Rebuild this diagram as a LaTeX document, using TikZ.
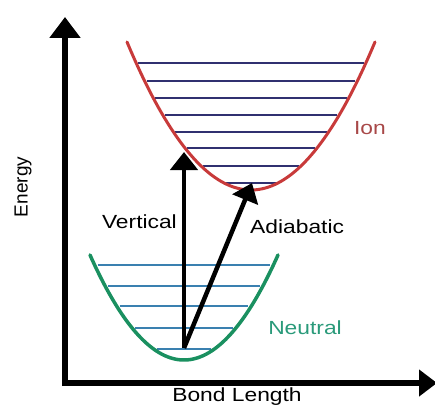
\documentclass[tikz,border=0pt]{standalone}
\usepackage{fontspec}
\setmainfont{Liberation Sans}[FakeStretch=1.2]
\newfontfamily\plainsans{Liberation Sans}
\usetikzlibrary{arrows.meta}
\definecolor{ionred}{HTML}{C83A3A}
\definecolor{iontext}{HTML}{A84848}
\definecolor{levnavy}{HTML}{303070}
\definecolor{neugreen}{HTML}{1A9060}
\definecolor{neutext}{HTML}{2A9A7A}
\definecolor{levblue}{HTML}{3A80B0}
\tikzset{
  axisline/.style={line width=5.5pt, -{Triangle[length=21pt,width=30pt]}},
  transarrow/.style={line width=4.5pt, -{Triangle[length=18pt,width=27pt]}},
  ioncurve/.style={ionred, line width=3pt, line cap=round},
  neucurve/.style={neugreen, line width=3.5pt, line cap=round},
  ionlevel/.style={levnavy, line width=1.3pt},
  neulevel/.style={levblue, line width=1.3pt},
  lbl/.style={font=\fontsize{19}{22}\selectfont, inner sep=0pt},
}
\begin{document}
\begin{tikzpicture}[x=1pt, y=-1pt]
\useasboundingbox (0,0) rectangle (435,406);
% levels
\foreach \yy in {63,81,98,115,132,148,166,183}{
  \pgfmathsetmacro\dx{sqrt((190-\yy)/0.00963)-2}
  \draw[ionlevel] ({251-\dx},\yy) -- ({251+\dx},\yy);
}
\foreach \yy in {265,286,306,328,349}{
  \pgfmathsetmacro\dx{sqrt((360-\yy)/0.01188)-3}
  \draw[neulevel] ({184-\dx},\yy) -- ({184+\dx},\yy);
}
% curves
\draw[ioncurve] plot[domain=127:375, samples=80] (\x, {190-0.00963*(\x-251)^2});
\draw[neucurve] plot[domain=90:278, samples=80] (\x, {360-0.01188*(\x-184)^2});
% axes
\coordinate (origin) at (65,386);
\coordinate (ytip) at (65,17);
\coordinate (xstart) at (62,383);
\coordinate (xtip) at (437,383);
\draw[axisline] (origin) -- (ytip);
\draw[axisline, -{Triangle[length=18pt,width=26pt]}] (xstart) -- (xtip);
% transitions
\coordinate (start) at (184,348);
\coordinate (vtop) at (184,152);
\coordinate (atop) at (252,183);
\draw[transarrow] (start) -- (vtop);
\draw[transarrow] (start) -- (atop);
% labels
\node[lbl, anchor=east] (vert) at (177,222) {Vertical};
\node[lbl, anchor=west] (adia) at (250,227) {Adiabatic};
\node[lbl, text=iontext] (ion) at (370,128) {Ion};
\node[lbl, text=neutext] (neu) at (305,328) {Neutral};
\node[lbl, anchor=base] (bond) at (237,401) {Bond Length};
\node[lbl, font=\plainsans\fontsize{19}{22}\selectfont, rotate=90] (energy) at (23,187) {Energy};
\end{tikzpicture}
\end{document}
